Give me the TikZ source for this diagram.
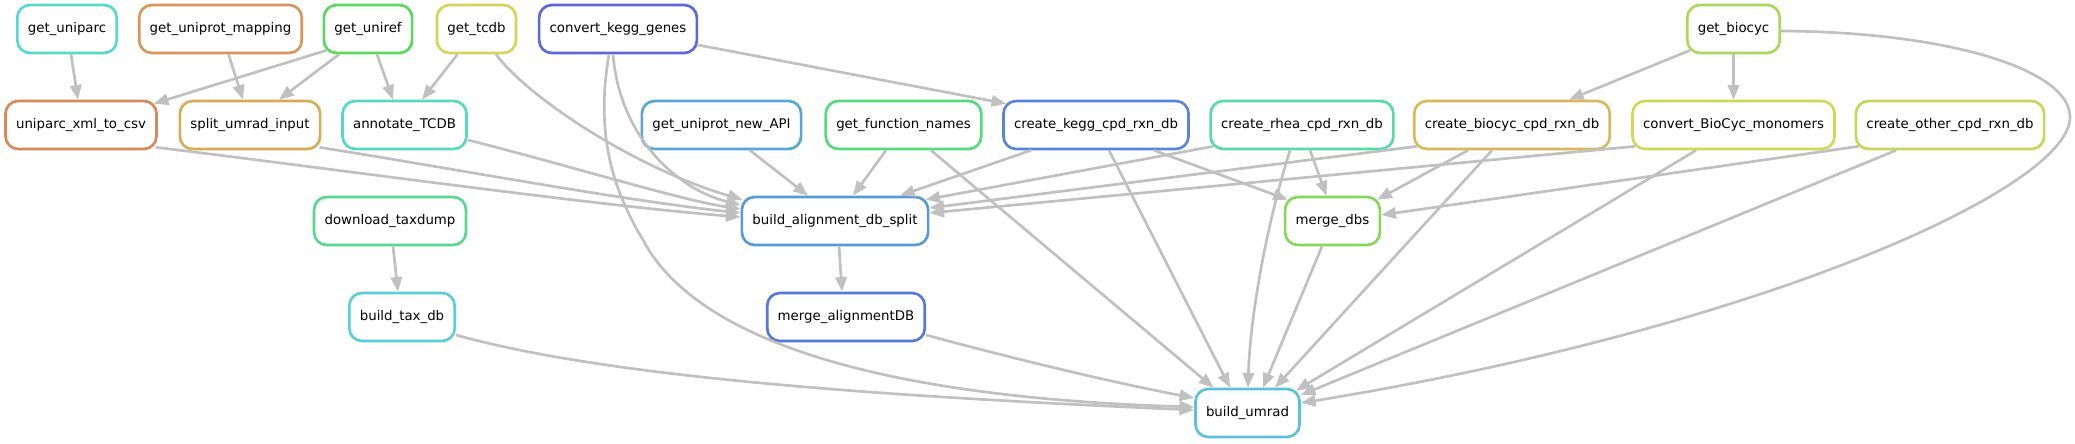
\documentclass[tikz,border=0pt]{standalone}
\usepackage{fontspec}
\setmainfont{DejaVu Sans}
\usetikzlibrary{arrows.meta,calc}
\definecolor{edgegray}{HTML}{C0C0C0}
\definecolor{cUniparc}{HTML}{57D9D0}
\definecolor{cMapping}{HTML}{D99557}
\definecolor{cUniref}{HTML}{57D95B}
\definecolor{cTcdb}{HTML}{D9D457}
\definecolor{cKeggGenes}{HTML}{5A68D9}
\definecolor{cBiocyc}{HTML}{A9D957}
\definecolor{cUxml}{HTML}{D98857}
\definecolor{cSplit}{HTML}{D9AB57}
\definecolor{cAnnot}{HTML}{57D9C0}
\definecolor{cApi}{HTML}{57A6D9}
\definecolor{cGfn}{HTML}{57D97F}
\definecolor{cKegg}{HTML}{5785D9}
\definecolor{cRhea}{HTML}{57D9A8}
\definecolor{cBiocCpd}{HTML}{D9B957}
\definecolor{cMono}{HTML}{D0D957}
\definecolor{cOther}{HTML}{C0D957}
\definecolor{cDtax}{HTML}{57D98E}
\definecolor{cBads}{HTML}{579AD9}
\definecolor{cMdbs}{HTML}{83D957}
\definecolor{cTaxdb}{HTML}{57CFD9}
\definecolor{cMal}{HTML}{5778D9}
\definecolor{cUmrad}{HTML}{57C2D9}
\begin{document}
\begin{tikzpicture}[x=0.75pt,y=-0.75pt,
  rulebox/.style={draw, line width=2pt, rounded corners=9.5pt, minimum height=36pt,
    minimum width=54pt, inner xsep=7.9pt, inner ysep=0pt,
    font=\fontsize{10pt}{12pt}\selectfont, text=black},
  conn/.style={draw=edgegray, line width=2pt, -{Triangle[length=11pt,width=8.5pt]}}]
\fill[white] (0,0) rectangle (2075,443);
\useasboundingbox (0,0) rectangle (2075,443);
% row 1
\node[rulebox, draw=cUniparc] (guniparc) at (67,29) {get\_uniparc};
\node[rulebox, draw=cMapping] (gmap) at (220.5,29) {get\_uniprot\_mapping};
\node[rulebox, draw=cUniref] (guniref) at (368,29) {get\_uniref};
\node[rulebox, draw=cTcdb] (gtcdb) at (476.5,29) {get\_tcdb};
\node[rulebox, draw=cKeggGenes] (ckegg) at (618,29) {convert\_kegg\_genes};
\node[rulebox, draw=cBiocyc] (gbioc) at (1733.5,29) {get\_biocyc};
% row 2
\node[rulebox, draw=cUxml] (uxml) at (81,125) {uniparc\_xml\_to\_csv};
\node[rulebox, draw=cSplit] (split) at (250,125) {split\_umrad\_input};
\node[rulebox, draw=cAnnot] (annot) at (404.5,125) {annotate\_TCDB};
\node[rulebox, draw=cApi] (api) at (721.5,125) {get\_uniprot\_new\_API};
\node[rulebox, draw=cGfn] (gfn) at (903.5,125) {get\_function\_names};
\node[rulebox, draw=cKegg] (kegg) at (1096,125) {create\_kegg\_cpd\_rxn\_db};
\node[rulebox, draw=cRhea] (rhea) at (1302,125) {create\_rhea\_cpd\_rxn\_db};
\node[rulebox, draw=cBiocCpd] (bioc) at (1512,125) {create\_biocyc\_cpd\_rxn\_db};
\node[rulebox, draw=cMono] (mono) at (1733.5,125) {convert\_BioCyc\_monomers};
\node[rulebox, draw=cOther] (other) at (1950,125) {create\_other\_cpd\_rxn\_db};
% row 3
\node[rulebox, draw=cDtax] (dtax) at (390,221) {download\_taxdump};
\node[rulebox, draw=cBads] (bads) at (835,221) {build\_alignment\_db\_split};
\node[rulebox, draw=cMdbs] (mdbs) at (1332.5,221) {merge\_dbs};
% row 4
\node[rulebox, draw=cTaxdb] (taxdb) at (402,317) {build\_tax\_db};
\node[rulebox, draw=cMal] (mal) at (846,317) {merge\_alignmentDB};
% row 5
\node[rulebox, draw=cUmrad] (bumrad) at (1247.5,413) {build\_umrad};
% edges
\draw[conn] ($(guniparc.south)+(4,0)$) -- ($(uxml.north)+(-3,0)$);
\draw[conn] ($(gmap.south)+(8,0)$) -- ($(split.north)+(-7,0)$);
\draw[conn] ($(guniref.south west)+(4,-4)$) -- ($(uxml.north east)+(-4,4)$);
\draw[conn] ($(guniref.south)+(-29,0)$) -- ($(split.north)+(29,0)$);
\draw[conn] ($(guniref.south)+(9,0)$) -- ($(annot.north)+(-11.5,0)$);
\draw[conn] ($(gtcdb.south)+(-19,0)$) -- ($(annot.north)+(17.5,0)$);
\draw[conn] ($(gtcdb.south)+(19.5,0)$) .. controls (530,100) and (640,170) .. ($(bads.north west)+(2,4)$);
\draw[conn] ($(ckegg.south)+(-5,0)$) .. controls (620,140) and (680,190) .. ($(bads.west)+(0,-16)$);
\draw[conn] ($(ckegg.south)+(-9,0)$) .. controls (596,130) and (610,185) .. (643,240)
  .. controls (680,310) and (800,395) .. ($(bumrad.west)+(0,-6)$);
\draw[conn] ($(ckegg.east)+(0,16)$) -- ($(kegg.north west)+(4,4)$);
\draw[conn] ($(uxml.south east)+(-2,-3)$) .. controls (350,171) and (600,206) .. ($(bads.west)+(0,-4)$);
\draw[conn] ($(split.south east)+(-2,-3)$) .. controls (450,168) and (620,200) .. ($(bads.west)+(0,-8)$);
\draw[conn] ($(annot.east)+(0,15)$) .. controls (560,163) and (680,200) .. ($(bads.west)+(0,-12)$);
\draw[conn] ($(api.south)+(28.5,0)$) -- ($(bads.north)+(-27,0)$);
\draw[conn] ($(gfn.south)+(-17.5,0)$) -- ($(bads.north)+(18,0)$);
\draw[conn] ($(gfn.south)+(27.5,0)$) -- ($(bumrad.north)+(-34,0)$);
\draw[conn] ($(kegg.south)+(-65,0)$) -- ($(bads.north)+(65,0)$);
\draw[conn] ($(kegg.south)+(13,0)$) -- ($(bumrad.north)+(-17.5,0)$);
\draw[conn] ($(kegg.south)+(58,0)$) -- ($(mdbs.north west)+(4,4)$);
\draw[conn] ($(rhea.south west)+(4,-4)$) -- ($(bads.north east)+(-4,4)$);
\draw[conn] ($(rhea.south)+(8,0)$) -- ($(mdbs.north)+(-6,0)$);
\draw[conn] ($(rhea.south)+(-12,0)$) .. controls (1265,230) and (1250,320) .. ($(bumrad.north)+(0.5,0)$);
\draw[conn] ($(bioc.south west)+(4,-4)$) -- ($(bads.east)+(0,-13)$);
\draw[conn] ($(bioc.south)+(-44,0)$) -- ($(mdbs.north east)+(-4,4)$);
\draw[conn] ($(bioc.south)+(-20,0)$) -- ($(bumrad.north)+(27.5,0)$);
\draw[conn] ($(mono.south west)+(4,-4)$) -- ($(bads.east)+(0,-8)$);
\draw[conn] ($(mono.south)+(-37.5,0)$) -- ($(bumrad.north east)+(-5,3)$);
\draw[conn] ($(other.south west)+(4,-4)$) -- ($(mdbs.east)+(0,-6)$);
\draw[conn] ($(other.south)+(-54,0)$) -- ($(bumrad.east)+(0,-18)$);
\draw[conn] ($(gbioc.south west)+(4,-4)$) -- ($(bioc.north)+(57,0)$);
\draw[conn] (gbioc.south) -- (mono.north);
\draw[conn] ($(gbioc.east)+(0,2)$) .. controls (1950,32) and (2070,70) .. (2070,117)
  .. controls (2070,190) and (1750,330) .. ($(bumrad.east)+(0,-10)$);
\draw[conn] ($(dtax.south)+(3,0)$) -- ($(taxdb.north)+(-4,0)$);
\draw[conn] ($(taxdb.east)+(0,18)$) .. controls (600,375) and (850,395) .. ($(bumrad.west)+(0,-3)$);
\draw[conn] ($(bads.south)+(4,0)$) -- ($(mal.north)+(-4,0)$);
\draw[conn] ($(mal.east)+(0,18)$) .. controls (1000,355) and (1100,380) .. ($(bumrad.west)+(0,-15)$);
\draw[conn] ($(mdbs.south)+(-10.5,0)$) -- ($(bumrad.north)+(15.5,0)$);
\end{tikzpicture}
\end{document}
